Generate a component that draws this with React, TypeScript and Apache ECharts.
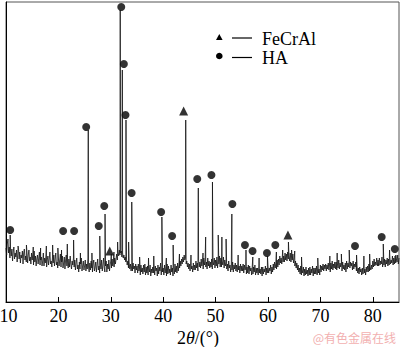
import React, { useEffect, useRef } from "react";
import * as echarts from "echarts";

// Background (noise) readings, 10° to 85° every 0.125°
const bgStart = 10;
const bgStep = 0.125;
const background = [
  54, 47, 58, 63, 49, 55, 44, 52,
  46, 53, 41, 50, 55, 43, 49, 45,
  52, 40, 48, 54, 43, 50, 39, 47,
  44, 51, 38, 49, 53, 42, 46, 40,
  50, 39, 47, 52, 41, 45, 38, 49,
  42, 48, 37, 51, 40, 46, 36, 43,
  47, 38, 44, 50, 37, 42, 45, 36,
  41, 49, 36, 44, 39, 47, 35, 42,
  46, 37, 43, 50, 38, 41, 35, 45,
  39, 47, 36, 43, 49, 37, 40, 34,
  44, 36, 42, 48, 35, 40, 46, 34,
  39, 45, 33, 42, 47, 36, 41, 34,
  43, 35, 46, 38, 33, 41, 37, 44,
  35, 42, 32, 39, 44, 33, 37, 30,
  40, 33, 38, 44, 31, 36, 41, 32,
  36, 42, 31, 38, 33, 43, 35, 30,
  39, 32, 41, 34, 30, 38, 42, 31,
  35, 40, 30, 37, 43, 32, 36, 29,
  39, 33, 42, 31, 37, 44, 34, 30,
  36, 41, 30, 38, 33, 42, 31, 37,
  41, 34, 43, 36, 40, 35, 44, 38,
  43, 48, 42, 50, 46, 52, 47, 49,
  51, 45, 49, 44, 47, 42, 45, 40,
  43, 37, 41, 34, 40, 33, 38, 31,
  37, 31, 39, 33, 36, 29, 38, 32,
  36, 29, 38, 31, 35, 27, 37, 30,
  34, 28, 37, 30, 38, 27, 35, 29,
  36, 27, 34, 30, 37, 26, 33, 29,
  35, 29, 38, 27, 36, 31, 34, 26,
  37, 28, 35, 31, 39, 27, 36, 30,
  34, 27, 37, 29, 35, 26, 38, 28,
  36, 29, 33, 27, 37, 30, 34, 26,
  35, 28, 38, 30, 36, 29, 39, 31,
  37, 34, 41, 36, 43, 38, 45, 40,
  47, 42, 44, 38, 41, 35, 39, 33,
  38, 31, 40, 33, 36, 30, 39, 32,
  37, 32, 41, 34, 39, 31, 42, 35,
  40, 34, 43, 36, 41, 33, 44, 37,
  42, 35, 40, 33, 44, 36, 41, 34,
  40, 35, 43, 33, 41, 37, 44, 34,
  42, 36, 45, 34, 43, 38, 46, 35,
  44, 35, 41, 37, 45, 34, 42, 36,
  40, 33, 38, 31, 41, 34, 37, 30,
  38, 32, 40, 30, 37, 33, 39, 31,
  37, 30, 39, 32, 36, 29, 38, 31,
  36, 31, 38, 29, 37, 32, 35, 28,
  35, 29, 37, 28, 36, 31, 34, 27,
  36, 28, 35, 30, 37, 27, 34, 29,
  34, 27, 36, 29, 33, 28, 35, 26,
  35, 28, 33, 30, 36, 27, 34, 29,
  36, 29, 34, 31, 37, 28, 35, 30,
  38, 32, 40, 34, 39, 33, 42, 35,
  43, 37, 46, 39, 44, 38, 47, 40,
  46, 40, 49, 42, 48, 41, 50, 43,
  47, 41, 49, 40, 46, 42, 48, 39,
  44, 36, 41, 34, 39, 32, 37, 30,
  34, 28, 36, 27, 33, 29, 35, 26,
  33, 27, 35, 28, 32, 26, 34, 27,
  35, 27, 33, 29, 36, 26, 34, 28,
  34, 28, 36, 27, 35, 29, 33, 27,
  37, 30, 36, 32, 38, 31, 37, 33,
  38, 31, 37, 33, 39, 32, 38, 30,
  39, 33, 41, 32, 38, 34, 40, 33,
  40, 32, 38, 34, 42, 33, 39, 35,
  38, 31, 40, 33, 37, 32, 39, 30,
  41, 33, 39, 35, 42, 34, 40, 36,
  39, 32, 41, 33, 38, 35, 40, 31,
  36, 29, 34, 28, 35, 30, 33, 27,
  34, 28, 36, 29, 33, 27, 35, 30,
  36, 30, 38, 31, 35, 32, 37, 33,
  41, 35, 43, 36, 40, 37, 44, 36,
  42, 36, 44, 37, 41, 38, 45, 35,
  41, 37, 43, 35, 42, 38, 44, 36,
  43, 37, 45, 38, 42, 39, 46, 37,
  44, 38, 46, 39, 43, 40, 47, 38,
  44,
];

// Diffraction peaks: position (2θ) and apex intensity
const peakPos = [
  10.8, 12.3, 13.9, 15.2, 16.6, 17.7, 18.9, 19.9, 20.6, 21.7, 22.9, 24.2,
  25.7, 26.4, 27.9, 28.9, 30.1, 30.6, 31.3, 31.8, 32.2, 32.9, 33.4, 34.0,
  35.5, 37.2, 38.2, 39.75, 40.6, 41.9, 43.1, 44.3, 45.3, 46.7, 47.6, 48.1,
  49.4, 50.5, 51.2, 52.0, 53.1, 54.3, 55.8, 57.1, 58.3, 59.9, 61.6, 62.8,
  63.9, 64.5, 65.1, 66.4, 69.5, 71.8, 73.2, 74.0, 75.5, 76.9, 78.3, 79.4,
  82.0, 83.2, 84.4,
];
const peakHeight = [
  67, 56, 57, 55, 54, 56, 57, 54, 52, 58, 62, 49,
  172, 49, 66, 88, 48, 50, 60, 292, 232, 182, 60, 100,
  45, 44, 46, 85, 44, 57, 48, 182, 47, 114, 49, 65,
  120, 67, 65, 63, 88, 47, 52, 45, 44, 46, 50, 52,
  60, 52, 51, 45, 44, 46, 49, 48, 52, 47, 46, 48,
  58, 52, 47,
];

// Phase markers
const haX = [10.8, 20.9, 23.0, 25.3, 27.7, 28.75, 32.0, 32.5, 32.8, 33.97, 39.6, 41.7, 46.5, 49.2, 53.2, 55.6, 57.05, 59.8, 61.4, 76.6, 81.7, 84.2];
const haY = [72, 71, 71, 175, 76, 96, 295, 238, 187, 109, 90, 66, 123, 127, 98, 57, 51, 49, 57, 56, 65, 53];
const feX = [29.8, 43.9, 63.8];
const feY = [51, 191, 67];

const xTicks = [10, 20, 30, 40, 50, 60, 70, 80];

const SERIF = "Liberation Serif";

export default function App() {
  const ref = useRef<HTMLDivElement>(null);
  useEffect(() => {
    if (!ref.current) return;
    const chart = echarts.init(ref.current, null, { renderer: "svg" });
    const pts: [number, number][] = background.map((v, i) => [bgStart + i * bgStep, v]);
    peakPos.forEach((p, i) => pts.push([p, peakHeight[i]]));
    pts.sort((a, b) => a[0] - b[0]);

    chart.setOption({
      animation: false,
      backgroundColor: "#fff",
      grid: {
        left: 6,
        right: 1,
        top: 2,
        bottom: 45,
        show: true,
        borderColor: "#555",
        borderWidth: 1,
        outerBoundsMode: "none",
        containLabel: false,
      },
      xAxis: {
        type: "value",
        min: 10,
        max: 85,
        interval: 10,
        axisLine: { lineStyle: { color: "#000", width: 1 } },
        axisTick: { inside: true, length: 5, lineStyle: { color: "#000" } },
        axisLabel: {
          margin: 5,
          color: "#000",
          fontFamily: SERIF,
          fontSize: 18,
          showMaxLabel: false,
          hideOverlap: false,
          formatter: (v: number) =>
            xTicks.indexOf(v) < 0 ? "" : v === xTicks[0] ? `{f|${v}}` : String(v),
          rich: {
            f: { fontFamily: SERIF, fontSize: 18, color: "#000", padding: [0, 0, 0, 5] },
          },
        },
        splitLine: { show: false },
      },
      yAxis: {
        type: "value",
        min: 0,
        max: 300,
        axisLine: { show: true, lineStyle: { color: "#000", width: 1 } },
        axisTick: { show: false },
        axisLabel: { show: false },
        splitLine: { show: false },
      },
      series: [
        {
          type: "line",
          data: pts,
          showSymbol: false,
          symbol: "none",
          lineStyle: { color: "#111", width: 0.8 },
        },
        {
          type: "scatter",
          data: haX.map((x, i) => [x, haY[i]]),
          symbol: "circle",
          symbolSize: 8,
          itemStyle: { color: "#000" },
          clip: false,
        },
        {
          type: "scatter",
          data: feX.map((x, i) => [x, feY[i]]),
          symbol: "triangle",
          symbolSize: 9,
          itemStyle: { color: "#000" },
          clip: false,
        },
      ],
      graphic: [
        {
          type: "polygon",
          shape: { points: [[216, 40], [222.6, 40], [219.3, 34]] },
          style: { fill: "#000" },
        },
        { type: "circle", shape: { cx: 219.3, cy: 56, r: 3.3 }, style: { fill: "#000" } },
        { type: "line", shape: { x1: 232, y1: 38, x2: 252, y2: 38 }, style: { stroke: "#000", lineWidth: 1.2 } },
        { type: "line", shape: { x1: 232, y1: 57.5, x2: 252, y2: 57.5 }, style: { stroke: "#000", lineWidth: 1.2 } },
        {
          type: "text",
          x: 262,
          y: 38.5,
          style: { text: "FeCrAl", fill: "#000", fontFamily: SERIF, fontSize: 18, verticalAlign: "middle" },
        },
        {
          type: "text",
          x: 262,
          y: 57.5,
          style: { text: "HA", fill: "#000", fontFamily: SERIF, fontSize: 18, verticalAlign: "middle" },
        },
        {
          type: "text",
          x: 198,
          y: 338,
          style: {
            text: "{n|2}{i|θ}{n|/(°)}",
            fill: "#000",
            fontFamily: SERIF,
            fontSize: 18,
            align: "center",
            verticalAlign: "middle",
            rich: {
              n: { fontFamily: SERIF, fontSize: 18, fill: "#000" },
              i: { fontStyle: "italic", fontFamily: SERIF, fontSize: 18, fill: "#000" },
            },
          },
        },
        {
          type: "text",
          x: 396,
          y: 337,
          style: {
            text: "@有色金属在线",
            fill: "#f2b0b0",
            fontFamily: "Noto Sans CJK SC",
            fontSize: 12,
            align: "right",
            verticalAlign: "middle",
          },
        },
      ],
    });
    return () => chart.dispose();
  }, []);
  return (
    <div
      ref={ref}
      style={{ position: "fixed", left: 0, top: 0, width: 400, height: 347, background: "#fff" }}
    />
  );
}
